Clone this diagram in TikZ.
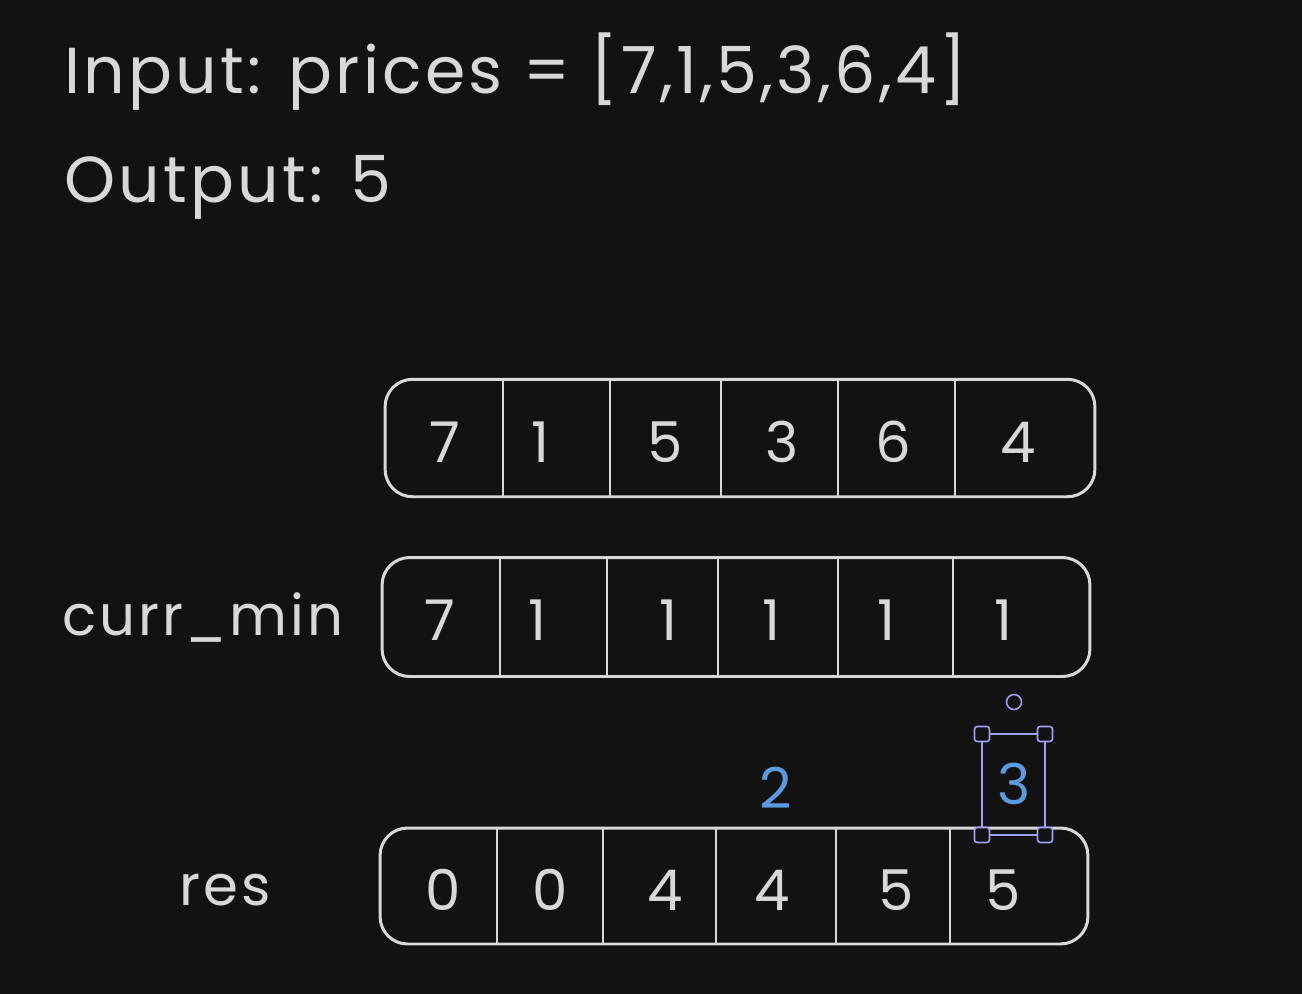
\documentclass[tikz,border=0pt]{standalone}
\usepackage{fontspec}
\setmainfont{Poppins}
\newfontfamily\handwide[LetterSpace=5]{Poppins}
\usetikzlibrary{positioning}
\definecolor{bgdark}{HTML}{121212}
\definecolor{chalk}{HTML}{D8D8D8}
\definecolor{pen}{HTML}{5B9BE0}
\definecolor{handle}{HTML}{A0A0F5}
\tikzset{
  rowbox/.style={draw=chalk, line width=1.7pt, rounded corners=0.55cm, minimum width=14.2cm, minimum height=2.35cm},
  divider/.style={draw=chalk, line width=1.5pt},
  digit/.style={text=chalk, font=\fontsize{32}{40}\selectfont},
  heading/.style={text=chalk, font=\handwide\fontsize{37}{44}\selectfont, anchor=west},
  rowlabel/.style={text=chalk, font=\handwide\fontsize{32}{40}\selectfont},
  grip/.style={draw=handle, line width=0.9pt, fill=bgdark, rounded corners=1.5pt, minimum size=0.3cm, inner sep=0pt},
}
\begin{document}
\begin{tikzpicture}[x=0.02cm, y=-0.02cm]
    \fill[bgdark] (0,0) rectangle (1302,994);
    \useasboundingbox (0,0) rectangle (1302,994);

    \node[heading] (input) at (58,72) {Input: prices = [7,1,5,3,6,4]};
    \node[heading] (output) at (58,187) {Output: 5};

    % prices
    \node[rowbox] (prices) at (740,438) {};
    \foreach \x in {503,610,721,838,955}
        \draw[divider] (\x,0 |- prices.north) -- (\x,0 |- prices.south);
    \foreach \x/\v [count=\i] in {445/7,540/1,665/5,782/3,893/6,1018/4}
        \node[digit] (p\i) at (\x,442) {\v};

    % curr_min
    \node[rowlabel] (currlabel) at (203,618) {curr\_min};
    \node[rowbox, minimum height=2.38cm, minimum width=14.16cm] (currmin) at (736,617) {};
    \foreach \x in {500,607,718,838,953}
        \draw[divider] (\x,0 |- currmin.north) -- (\x,0 |- currmin.south);
    \foreach \x/\v [count=\i] in {440/7,537/1,668/1,771/1,886/1,1003/1}
        \node[digit] (m\i) at (\x,620) {\v};

    % res
    \node[rowlabel] (reslabel) at (225,890) {res};
    \node[rowbox, minimum height=2.32cm, minimum width=14.16cm] (res) at (734,886) {};
    \foreach \x in {497,603,716,836,950}
        \draw[divider] (\x,0 |- res.north) -- (\x,0 |- res.south);
    \foreach \x/\v [count=\i] in {443/0,550/0,665/4,772/4,896/5,1003/5}
        \node[digit] (r\i) at (\x,890) {\v};

    % profits
    \node[text=pen, font=\fontsize{32}{40}\selectfont] (two) at (776,788) {2};
    \node[text=pen, font=\fontsize{32}{40}\selectfont] (three) at (1014,784) {3};

    % selection around 3
    \draw[draw=handle, line width=0.9pt] (982,734) rectangle (1045,835);
    \foreach \x/\y in {982/734,1045/734,982/835,1045/835}
        \node[grip] at (\x,\y) {};
    \node[draw=handle, line width=0.9pt, circle, minimum size=0.3cm, inner sep=0pt] (rotate) at (1014,702) {};
\end{tikzpicture}
\end{document}
